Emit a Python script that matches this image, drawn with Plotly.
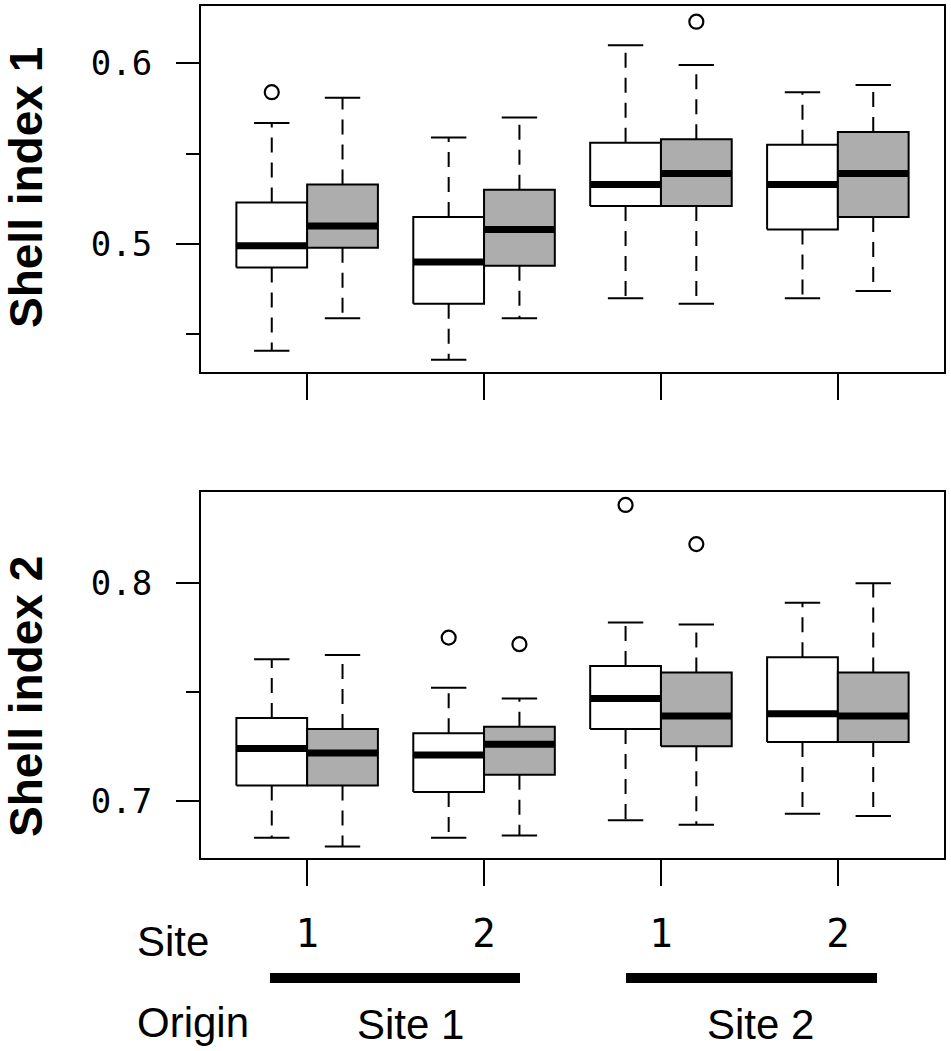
import plotly.graph_objects as go

# groups on the x axis (Site), two origins below
site_labels = ["1", "2", "1", "2"]
origin_labels = ["Site 1", "Site 2"]
group_pos = [1, 2, 3, 4]

# Shell index 1 -- white boxes
s1_white_lo = [0.441, 0.436, 0.470, 0.470]
s1_white_q1 = [0.487, 0.467, 0.521, 0.508]
s1_white_med = [0.499, 0.490, 0.533, 0.533]
s1_white_q3 = [0.523, 0.515, 0.556, 0.555]
s1_white_hi = [0.567, 0.559, 0.610, 0.584]
s1_white_out = [[0.584], [], [], []]
# Shell index 1 -- gray boxes
s1_gray_lo = [0.459, 0.459, 0.467, 0.474]
s1_gray_q1 = [0.498, 0.488, 0.521, 0.515]
s1_gray_med = [0.510, 0.508, 0.539, 0.539]
s1_gray_q3 = [0.533, 0.530, 0.558, 0.562]
s1_gray_hi = [0.581, 0.570, 0.599, 0.588]
s1_gray_out = [[], [], [0.623], []]

# Shell index 2 -- white boxes
s2_white_lo = [0.683, 0.683, 0.691, 0.694]
s2_white_q1 = [0.707, 0.704, 0.733, 0.727]
s2_white_med = [0.724, 0.721, 0.747, 0.740]
s2_white_q3 = [0.738, 0.731, 0.762, 0.766]
s2_white_hi = [0.765, 0.752, 0.782, 0.791]
s2_white_out = [[], [0.775], [0.836], []]
# Shell index 2 -- gray boxes
s2_gray_lo = [0.679, 0.684, 0.689, 0.693]
s2_gray_q1 = [0.707, 0.712, 0.725, 0.727]
s2_gray_med = [0.722, 0.726, 0.739, 0.739]
s2_gray_q3 = [0.733, 0.734, 0.759, 0.759]
s2_gray_hi = [0.767, 0.747, 0.781, 0.800]
s2_gray_out = [[], [0.772], [0.818], []]

BOX_HALF = 0.2
CAP_HALF = 0.1
GRAY = "#adadad"
W, H = 951, 1051


def px(x):
    return x / W


def py(y):
    return 1 - y / H


def add_boxes(fig, xa, ya, offset, lo, q1, med, q3, hi, outs, fill):
    bx, by, mx, my, wx, wy, cx, cy, ox, oy = [], [], [], [], [], [], [], [], [], []
    for i, g in enumerate(group_pos):
        c = g + offset
        l, r = c - BOX_HALF, c + BOX_HALF
        bx += [l, r, r, l, l, None]
        by += [q1[i], q1[i], q3[i], q3[i], q1[i], None]
        mx += [l, r, None]
        my += [med[i], med[i], None]
        wx += [c, c, None, c, c, None]
        wy += [q3[i], hi[i], None, q1[i], lo[i], None]
        cx += [c - CAP_HALF, c + CAP_HALF, None, c - CAP_HALF, c + CAP_HALF, None]
        cy += [hi[i], hi[i], None, lo[i], lo[i], None]
        for v in outs[i]:
            ox.append(c)
            oy.append(v)
    common = dict(xaxis=xa, yaxis=ya, mode="lines", hoverinfo="skip", showlegend=False)
    fig.add_trace(go.Scatter(x=wx, y=wy, line=dict(color="black", width=2, dash="15px,10px"), **common))
    fig.add_trace(go.Scatter(x=cx, y=cy, line=dict(color="black", width=2), **common))
    fig.add_trace(go.Scatter(x=bx, y=by, fill="toself", fillcolor=fill,
                             line=dict(color="black", width=2), **common))
    fig.add_trace(go.Scatter(x=mx, y=my, line=dict(color="black", width=7), **common))
    fig.add_trace(go.Scatter(x=ox, y=oy, xaxis=xa, yaxis=ya, mode="markers", hoverinfo="skip",
                             showlegend=False,
                             marker=dict(symbol="circle-open", size=14, color="black",
                                         line=dict(width=2.2, color="black"))))


fig = go.Figure()
add_boxes(fig, "x", "y", -0.2, s1_white_lo, s1_white_q1, s1_white_med, s1_white_q3, s1_white_hi, s1_white_out, "white")
add_boxes(fig, "x", "y", 0.2, s1_gray_lo, s1_gray_q1, s1_gray_med, s1_gray_q3, s1_gray_hi, s1_gray_out, GRAY)
add_boxes(fig, "x2", "y2", -0.2, s2_white_lo, s2_white_q1, s2_white_med, s2_white_q3, s2_white_hi, s2_white_out, "white")
add_boxes(fig, "x2", "y2", 0.2, s2_gray_lo, s2_gray_q1, s2_gray_med, s2_gray_q3, s2_gray_hi, s2_gray_out, GRAY)

xbase = dict(range=[0.4, 4.6], showgrid=False, zeroline=False, showline=True, mirror=True,
             linecolor="black", linewidth=2, ticks="outside", ticklen=26, tickwidth=2,
             tickcolor="black", tickvals=group_pos, domain=[px(201), px(944)])
ybase = dict(showgrid=False, zeroline=False, showline=True, mirror=True, linecolor="black",
             linewidth=2, ticks="outside", ticklen=23, tickwidth=2, tickcolor="black",
             ticklabelstandoff=17, tickfont=dict(family="DejaVu Sans Mono", size=34, color="black"),
             minor=dict(ticks="outside", ticklen=13, tickwidth=2, tickcolor="black"))

fig.update_layout(
    width=W, height=H,
    margin=dict(l=0, r=0, t=0, b=0),
    plot_bgcolor="white", paper_bgcolor="white",
    font=dict(family="Liberation Sans", color="black"),
    xaxis=dict(xbase, anchor="y", showticklabels=False),
    yaxis=dict(ybase, anchor="x", domain=[py(372), py(6)], range=[0.4292, 0.6317],
               tickvals=[0.5, 0.6], ticktext=["0.5", "0.6"], minor=dict(ybase["minor"], tickvals=[0.45, 0.55])),
    xaxis2=dict(xbase, anchor="y2", ticktext=site_labels, ticklabelstandoff=14,
                tickfont=dict(family="DejaVu Sans Mono", size=39, color="black")),
    yaxis2=dict(ybase, anchor="x2", domain=[py(857.7), py(491.7)], range=[0.6738, 0.8421],
                tickvals=[0.7, 0.8], ticktext=["0.7", "0.8"], minor=dict(ybase["minor"], tickvals=[0.75])),
)

title_font = dict(family="Liberation Sans", size=46, color="black")
for txt, yc in [("<b>Shell index 1</b>", 188), ("<b>Shell index 2</b>", 697)]:
    fig.add_annotation(text=txt, xref="paper", yref="paper", x=px(26), y=py(yc),
                       textangle=-90, showarrow=False, font=title_font,
                       xanchor="center", yanchor="middle")

lab_font = dict(family="Liberation Sans", size=42, color="black")
fig.add_annotation(text="Site", xref="paper", yref="paper", x=px(135), y=py(941),
                   xanchor="left", yanchor="middle", showarrow=False, font=lab_font)
fig.add_annotation(text="Origin", xref="paper", yref="paper", x=px(135), y=py(1022),
                   xanchor="left", yanchor="middle", showarrow=False, font=lab_font)
for txt, xc in zip(origin_labels, [410, 760]):
    fig.add_annotation(text=txt, xref="paper", yref="paper", x=px(xc), y=py(1024),
                       xanchor="center", yanchor="middle", showarrow=False, font=lab_font)

# origin bars under the site labels
for x0, x1 in [(270, 520), (626, 877)]:
    fig.add_shape(type="rect", xref="paper", yref="paper", x0=px(x0), x1=px(x1),
                  y0=py(983), y1=py(973), fillcolor="black", line=dict(width=0))

# drop the default body margin so the figure sits at the window corner
fig.write_html("out.html", config={"displayModeBar": False},
               post_script="document.body.style.margin='0';")
